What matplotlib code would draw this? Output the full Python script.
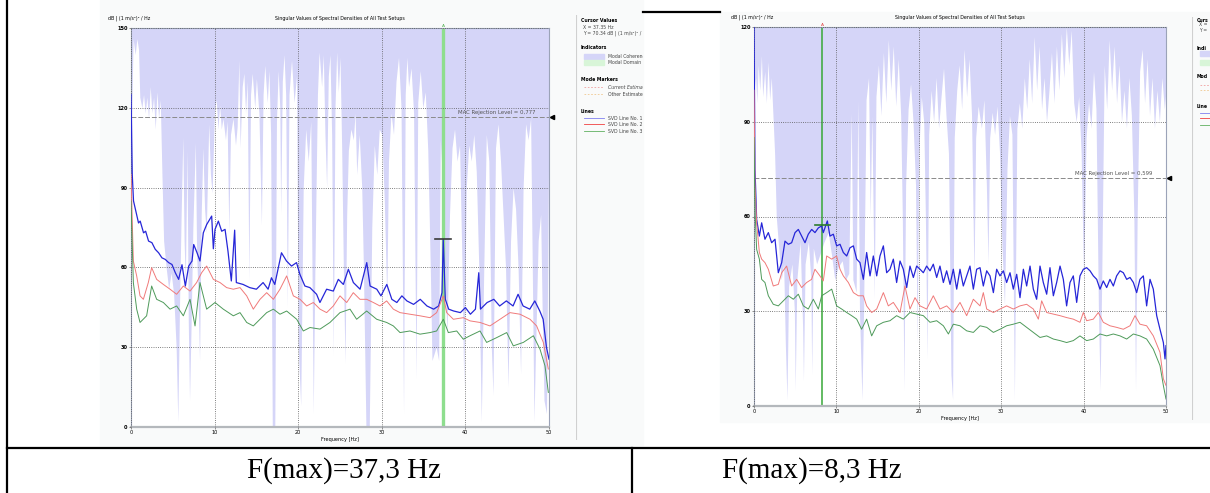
import numpy as np
import matplotlib.pyplot as plt
from matplotlib.lines import Line2D
from matplotlib.patches import Rectangle
from matplotlib.transforms import blended_transform_factory

plt.rcParams['font.family'] = ['DejaVu Sans']

# (frequency Hz, dB), F(max) = 37.3 Hz
svd1_left = [(0, 125), (0.15, 95), (0.3, 85), (0.9, 76.7), (1.1, 77.4), (1.5, 73), (1.75, 73.6), (2.1, 69.9),
             (2.5, 69.3), (2.9, 66.8), (3.3, 65.5), (3.7, 63.6), (4.1, 63), (4.5, 61.8), (4.9, 61.1), (5.3, 58),
             (5.7, 55.5), (6.1, 61), (6.5, 53), (6.9, 60.5), (7.3, 62.4), (7.5, 68.6), (7.9, 65.5), (8.25, 62.4),
             (8.65, 73), (9.05, 76.1), (9.65, 79.3), (9.85, 67), (10.05, 74.3), (10.45, 77.4), (10.85, 73.6),
             (11.25, 74.3), (11.6, 66.1), (12.0, 54.9), (12.4, 74), (12.6, 54.3), (13.4, 53.6), (14.2, 52.4),
             (15.0, 51.8), (15.8, 54.3), (16.4, 51.8), (16.8, 56.1), (17.2, 53.6), (18.0, 65.5), (18.6, 62.4),
             (19.2, 60.5), (19.8, 61.8), (20.2, 57.4), (20.8, 53), (21.4, 52.4), (22.2, 49.9), (22.6, 46.8),
             (23.4, 51.8), (24.2, 51.1), (24.8, 55.5), (25.4, 53.6), (26.0, 59.3), (26.6, 54.3), (27.4, 51.8),
             (28.2, 61.8), (28.6, 53), (29.4, 51.8), (29.9, 49.3), (30.6, 53.6), (31.2, 48), (31.8, 46.8),
             (32.4, 49.3), (33.0, 47.4), (33.8, 46.1), (34.6, 48), (35.4, 45.5), (36.2, 44.3), (36.8, 45.5),
             (37.2, 50.5), (37.35, 70.5), (37.6, 48), (38.0, 44.3), (38.6, 43.6), (39.4, 43), (40.0, 44.9),
             (40.6, 42.4), (41.2, 44.3), (41.6, 58), (41.8, 44.3), (42.6, 46.8), (43.4, 48), (44.1, 45.5),
             (44.9, 47.4), (45.7, 45.5), (46.3, 49.9), (46.9, 45.5), (47.7, 44.3), (48.3, 47.4), (48.9, 43.6),
             (49.3, 40.5), (49.7, 29.9), (50, 25.5)]
svd2_left = [(0, 95), (0.28, 62.4), (0.68, 56.8), (1.08, 49.3), (1.48, 48), (2.07, 54.3), (2.47, 59.9), (3.07, 55.5),
             (3.87, 53.6), (4.67, 51.8), (5.46, 49.9), (6.26, 53), (7.06, 51.1), (7.85, 54.3), (8.45, 58),
             (9.05, 60.5), (9.85, 55.5), (10.65, 54.3), (11.44, 52.4), (12.24, 51.8), (13.04, 52.4), (13.84, 49.3),
             (14.63, 44.3), (15.43, 48), (16.23, 50.5), (17.03, 48), (17.82, 51.8), (18.62, 56.8), (19.42, 49.3),
             (20.22, 48), (21.01, 45.5), (21.81, 46.8), (22.61, 44.3), (23.4, 43), (24.2, 45.5), (25.0, 49.3),
             (25.8, 46.8), (26.59, 50.5), (27.39, 48), (28.19, 48), (28.99, 46.8), (29.78, 45.5), (30.58, 47.4),
             (31.38, 44.3), (32.18, 43), (33.37, 42.4), (34.57, 41.8), (35.77, 41.1), (36.56, 43), (37.36, 49.3),
             (37.76, 43), (38.56, 40.5), (39.75, 41.1), (40.55, 39.9), (41.75, 39.3), (42.94, 38), (44.14, 40.5),
             (45.33, 43), (46.53, 42.4), (47.73, 40.5), (48.52, 38), (49.32, 31.8), (49.92, 21.8)]
svd3_left = [(0, 85), (0.28, 54.3), (0.68, 44.3), (1.08, 39.3), (1.87, 41.8), (2.47, 53), (3.07, 48), (3.87, 46.8),
             (4.67, 44.3), (5.46, 45.5), (6.26, 41.8), (7.06, 48), (7.66, 38), (8.25, 54.3), (9.05, 44.3),
             (10.05, 46.8), (11.04, 44.3), (12.24, 41.8), (13.04, 43), (13.84, 39.3), (14.63, 38), (15.43, 40.5),
             (16.23, 43), (17.03, 44.3), (17.82, 42.4), (18.62, 43.6), (19.82, 40.5), (20.61, 36.1), (21.41, 37.4),
             (22.61, 36.8), (23.8, 39.3), (25.0, 43), (26.2, 44.3), (26.99, 40.5), (28.19, 43.6), (29.39, 40.5),
             (30.58, 39.3), (31.38, 38), (32.18, 35.5), (33.37, 36.1), (34.57, 34.9), (35.77, 35.5), (36.56, 36.1),
             (37.36, 40.5), (37.96, 35.5), (38.96, 36.1), (39.75, 33), (40.55, 34.3), (41.75, 36.1), (42.54, 31.8),
             (43.74, 33.6), (44.94, 35.5), (45.73, 30.5), (46.93, 31.8), (48.13, 34.3), (48.92, 29.3), (49.52, 23),
             (49.92, 13)]
# lower edge of the "Modal Coherence" shading (shaded up to the top of the plot)
coherence_left = [(0.0, 60), (0.1, 120), (0.25, 146), (0.5, 140), (0.7, 146), (0.9, 142), (1.05, 124), (1.3, 120),
                  (1.5, 125), (1.7, 118), (1.9, 124), (2.1, 116), (2.3, 128), (2.5, 118), (2.7, 124), (2.9, 112),
                  (3.1, 126), (3.3, 116), (3.5, 123), (3.7, 95), (3.9, 70), (4.2, 60), (4.5, 52), (4.8, 58),
                  (5.1, 50), (5.4, 30), (5.6, 2), (5.8, 45), (6.0, 80), (6.2, 109), (6.35, 70), (6.5, 55),
                  (6.7, 104), (6.85, 40), (7.0, 10), (7.2, 40), (7.4, 75), (7.7, 107), (7.85, 65), (8.0, 52),
                  (8.2, 25), (8.4, 80), (8.6, 105), (8.8, 82), (9.0, 73), (9.3, 114), (9.5, 95), (9.7, 88),
                  (10.0, 120), (10.2, 123), (10.4, 112), (10.6, 121), (10.8, 112), (11.0, 116), (11.3, 108),
                  (11.5, 115), (11.7, 73), (11.9, 110), (12.2, 116), (12.5, 106), (12.7, 113), (12.9, 138),
                  (13.05, 105), (13.3, 128), (13.5, 133), (13.7, 118), (13.9, 130), (14.1, 55), (14.3, 125),
                  (14.5, 133), (14.8, 120), (15.0, 131), (15.3, 118), (15.6, 76), (15.8, 125), (16.0, 136),
                  (16.3, 122), (16.5, 134), (16.7, 110), (16.9, 0), (17.2, 0), (17.4, 115), (17.6, 134), (17.8, 120),
                  (17.9, 80), (18.1, 130), (18.3, 140), (18.5, 125), (18.7, 45), (18.9, 125), (19.2, 138),
                  (19.5, 122), (19.8, 132), (20.0, 30), (20.3, 8), (20.6, 90), (20.9, 112), (21.2, 100), (21.5, 115),
                  (21.8, 5), (22.0, 60), (22.3, 125), (22.5, 141), (22.8, 128), (23.0, 140), (23.2, 110), (23.4, 90),
                  (23.6, 132), (23.8, 140), (24.0, 110), (24.2, 27), (24.4, 120), (24.6, 141), (24.8, 126),
                  (25.0, 139), (25.2, 105), (25.4, 60), (25.6, 24), (25.8, 80), (26.0, 104), (26.3, 112),
                  (26.6, 108), (26.8, 118), (27.0, 95), (27.3, 110), (27.6, 90), (27.8, 60), (28.1, 0), (28.5, 0),
                  (28.8, 75), (29.1, 106), (29.4, 95), (29.7, 112), (30.0, 110), (30.3, 85), (30.6, 48), (30.8, 100),
                  (31.1, 118), (31.4, 110), (31.7, 130), (32.0, 139), (32.3, 120), (32.6, 5), (32.8, 125),
                  (33.0, 139), (33.2, 128), (33.5, 135), (33.8, 118), (34.1, 18), (34.3, 122), (34.6, 134),
                  (34.9, 120), (35.2, 126), (35.5, 104), (35.8, 60), (36.0, 25), (36.5, 30), (36.8, 25), (37.0, 108),
                  (37.3, 90), (37.5, 60), (37.8, 35), (38.1, 80), (38.4, 105), (38.7, 112), (39.0, 100), (39.3, 106),
                  (39.6, 60), (39.8, 15), (40.1, 90), (40.4, 106), (40.7, 100), (41.0, 110), (41.3, 96), (41.6, 60),
                  (41.9, 2), (42.2, 60), (42.5, 110), (42.8, 100), (43.1, 30), (43.3, 12), (43.6, 105), (43.9, 114),
                  (44.2, 100), (44.5, 80), (44.8, 60), (45.1, 15), (45.4, 70), (45.7, 90), (46.0, 82), (46.3, 60),
                  (46.6, 20), (46.9, 90), (47.2, 114), (47.5, 108), (47.8, 116), (48.0, 60), (48.2, 2), (48.4, 30),
                  (48.7, 70), (49.0, 80), (49.2, 40), (49.4, 10), (49.7, 5), (50.0, 120)]
mac_left = 116.6
cursor_left = (37.35, 70.5)

# right screenshot, F(max) = 8.3 Hz
svd1_right = [(0.0, 120), (0.12, 75), (0.32, 59.1), (0.65, 53.8), (0.93, 58), (1.33, 52.8), (1.74, 54.9), (2.14, 51.7),
              (2.55, 52.8), (2.95, 42.2), (3.36, 45.4), (3.76, 52.2), (4.17, 51.2), (4.57, 51.7), (4.98, 54.9),
              (5.38, 55.9), (5.78, 53.8), (6.19, 51.7), (6.59, 54.4), (7.0, 55.9), (7.4, 54.9), (7.81, 56.4),
              (8.21, 57), (8.41, 54.9), (8.9, 58.6), (9.22, 53.8), (9.63, 54.4), (10.03, 50.7), (10.44, 51.2),
              (10.84, 48.6), (11.25, 47.5), (11.65, 50.1), (12.06, 50.7), (12.46, 46.5), (12.86, 45.4), (13.27, 40.1),
              (13.67, 48.6), (14.08, 41.2), (14.48, 47.5), (14.89, 41.2), (15.29, 47.5), (15.7, 50.7), (16.1, 42.2),
              (16.5, 43.3), (16.91, 46.5), (17.31, 39.1), (17.72, 45.9), (18.12, 43.3), (18.53, 37.5), (18.93, 44.3),
              (19.34, 40.7), (19.74, 44.3), (20.15, 43.3), (20.55, 42.2), (20.95, 44.3), (21.36, 42.8), (21.76, 44.9),
              (22.17, 40.7), (22.57, 44.3), (22.98, 39.1), (23.38, 42.8), (23.79, 38.5), (24.19, 43.3), (24.6, 37),
              (25.0, 43.3), (25.4, 38), (25.81, 41.2), (26.21, 44.3), (26.62, 37), (27.02, 43.3), (27.43, 43.8),
              (27.83, 38), (28.24, 42.8), (28.64, 41.2), (29.05, 35.9), (29.45, 43.3), (29.85, 41.2), (30.26, 42.8),
              (30.66, 39.1), (31.07, 42.2), (31.47, 37), (31.88, 41.7), (32.28, 34.3), (32.69, 43.3), (33.09, 38),
              (33.5, 44.3), (33.9, 37), (34.3, 33.8), (34.71, 44.3), (35.11, 39.1), (35.52, 35.4), (35.92, 43.8),
              (36.33, 34.9), (36.73, 39.1), (37.14, 44.3), (37.54, 40.1), (37.94, 31.7), (38.35, 39.1), (38.75, 41.2),
              (39.16, 32.8), (39.56, 41.2), (39.97, 43.3), (40.37, 43.8), (40.78, 42.8), (41.18, 41.2), (41.59, 40.1),
              (41.99, 37), (42.39, 39.6), (42.8, 37.5), (43.2, 40.1), (43.61, 38), (44.01, 41.2), (44.42, 42.8),
              (44.82, 42.2), (45.23, 40.1), (45.63, 40.7), (46.04, 39.1), (46.44, 35.9), (46.84, 40.1), (47.25, 41.2),
              (47.65, 31.7), (48.06, 40.1), (48.46, 37), (48.87, 28.6), (49.27, 24.3), (49.68, 20.1), (49.88, 14.9),
              (50.0, 19.1)]
svd2_right = [(0, 100), (0.12, 70), (0.32, 58), (0.65, 48.6), (0.93, 46.5), (1.33, 45.4), (1.74, 43.3), (2.34, 38),
              (2.95, 38.5), (3.36, 42.2), (3.96, 44.3), (4.57, 38), (5.18, 40.1), (5.78, 37.5), (6.39, 39.1),
              (6.99, 40.1), (7.4, 43.3), (8.0, 41.2), (8.41, 39.6), (8.82, 47.5), (9.43, 46.5), (10.03, 47.5),
              (10.44, 43.3), (10.84, 41.2), (11.45, 39.1), (12.06, 35.9), (12.66, 34.9), (13.27, 34.9), (13.67, 31.7),
              (14.28, 29.6), (14.89, 30.7), (15.7, 35.9), (16.3, 31.7), (16.91, 32.8), (17.72, 29.6), (18.32, 38),
              (18.93, 30.7), (19.54, 34.3), (20.15, 31.7), (20.95, 30.7), (21.76, 34.9), (22.57, 30.7), (23.38, 31.7),
              (24.19, 29.6), (25.0, 32.8), (25.81, 28.6), (26.62, 33.8), (27.43, 31.7), (27.83, 35.9), (28.24, 30.7),
              (29.05, 29.6), (29.85, 30.7), (30.66, 31.7), (31.47, 30.7), (32.28, 31.7), (33.09, 32.2), (33.9, 30.7),
              (34.51, 27.5), (34.91, 33.3), (35.52, 29.6), (36.33, 29.1), (37.14, 28.6), (37.94, 28.0), (38.75, 27.5),
              (39.56, 26.5), (39.97, 29.6), (40.37, 27), (41.18, 27.5), (41.79, 29.6), (42.39, 26.5), (43.2, 25.4),
              (44.01, 24.9), (44.82, 24.3), (45.63, 25.4), (46.24, 28.6), (46.84, 25.9), (47.65, 25.4), (48.46, 22.2),
              (49.27, 17), (49.68, 8.6), (50.0, 6.5)]
svd3_right = [(0, 85), (0.12, 62), (0.32, 49.6), (0.65, 46.5), (0.93, 40.1), (1.33, 39.1), (1.74, 34.9), (2.34, 32.2),
              (2.95, 31.7), (3.56, 33.3), (4.17, 34.9), (4.77, 33.8), (5.38, 35.4), (5.99, 31.7), (6.59, 30.7),
              (7.2, 33.8), (7.81, 30.7), (8.21, 34.9), (8.82, 35.9), (9.43, 37), (10.03, 31.7), (10.64, 30.7),
              (11.25, 29.6), (11.85, 28.6), (12.46, 27.5), (13.06, 24.3), (13.67, 27.5), (14.28, 22.2), (14.89, 25.4),
              (15.7, 26.5), (16.5, 27), (17.31, 28.6), (18.12, 27.5), (18.93, 29.6), (19.74, 29.1), (20.55, 28.6),
              (21.36, 26.5), (22.17, 27), (22.98, 25.4), (23.59, 22.8), (24.19, 25.9), (25.0, 25.4), (25.81, 23.8),
              (26.62, 23.3), (27.43, 25.4), (28.24, 24.9), (29.05, 23.3), (29.85, 24.3), (30.66, 25.4), (31.47, 25.9),
              (32.28, 26.5), (33.09, 24.9), (33.9, 23.3), (34.71, 21.7), (35.52, 22.2), (36.33, 21.2), (37.14, 20.7),
              (37.94, 20.1), (38.75, 20.7), (39.56, 22.2), (40.37, 20.7), (41.18, 21.2), (41.99, 22.8), (42.8, 22.2),
              (43.61, 22.8), (44.42, 22.2), (45.23, 21.2), (46.04, 22.8), (46.84, 22.2), (47.65, 21.2), (48.46, 18),
              (49.27, 12.8), (49.68, 6.5), (50.0, 2.2)]
coherence_right = [(0.0, 100), (0.2, 104), (0.35, 96), (0.5, 108), (0.7, 100), (0.9, 111), (1.05, 98), (1.3, 106),
                   (1.5, 96), (1.7, 109), (1.9, 97), (2.1, 104), (2.3, 92), (2.5, 80), (2.7, 60), (3.0, 50),
                   (3.3, 40), (3.6, 45), (3.8, 20), (4.0, 2), (4.2, 38), (4.6, 45), (4.9, 30), (5.0, 5), (5.2, 40),
                   (5.6, 52), (5.9, 25), (6.0, 8), (6.2, 45), (6.6, 52), (6.9, 40), (7.0, 10), (7.2, 50), (7.6, 45),
                   (8.0, 48), (8.5, 52), (9.0, 55), (9.4, 48), (9.8, 40), (10.2, 44), (10.7, 46), (11.1, 40),
                   (11.5, 42), (11.8, 93), (12.0, 40), (12.4, 36), (12.6, 97), (12.8, 30), (13.1, 2), (13.3, 30),
                   (13.6, 97), (13.9, 104), (14.1, 60), (14.3, 92), (14.6, 34), (14.8, 98), (15.1, 108), (15.4, 92),
                   (15.7, 112), (16.0, 96), (16.3, 116), (16.6, 100), (16.9, 114), (17.2, 95), (17.5, 110),
                   (17.8, 92), (18.0, 60), (18.2, 5), (18.4, 70), (18.7, 94), (19.0, 102), (19.3, 90), (19.6, 70),
                   (19.8, 20), (20.0, 80), (20.3, 98), (20.6, 90), (20.8, 60), (21.0, 15), (21.2, 86), (21.5, 100),
                   (21.8, 90), (22.1, 104), (22.4, 88), (22.7, 98), (23.0, 107), (23.3, 92), (23.6, 80), (23.9, 10),
                   (24.1, 2), (24.3, 85), (24.6, 100), (24.9, 108), (25.2, 94), (25.5, 113), (25.8, 98),
                   (26.1, 110), (26.4, 92), (26.7, 40), (26.9, 85), (27.2, 95), (27.6, 88), (27.9, 97), (28.2, 70),
                   (28.4, 45), (28.6, 85), (28.9, 93), (29.2, 86), (29.5, 95), (29.8, 80), (30.1, 50), (30.4, 32),
                   (30.7, 75), (31.0, 92), (31.3, 86), (31.6, 2), (31.9, 88), (32.2, 96), (32.5, 88), (32.8, 104),
                   (33.1, 94), (33.4, 110), (33.7, 96), (34.0, 117), (34.3, 100), (34.6, 114), (34.9, 94),
                   (35.2, 104), (35.5, 90), (35.8, 100), (36.1, 112), (36.4, 96), (36.7, 114), (37.0, 100),
                   (37.3, 118), (37.6, 104), (37.9, 120), (38.2, 108), (38.5, 119), (38.8, 96), (39.1, 90),
                   (39.4, 98), (39.7, 80), (40.0, 40), (40.3, 85), (40.6, 96), (40.9, 88), (41.2, 106), (41.5, 94),
                   (41.8, 30), (42.0, 5), (42.2, 40), (42.5, 108), (42.8, 94), (43.1, 116), (43.4, 100), (43.7, 114),
                   (44.0, 96), (44.3, 108), (44.6, 90), (44.9, 100), (45.2, 88), (45.5, 104), (45.8, 92), (46.1, 60),
                   (46.3, 5), (46.5, 60), (46.8, 106), (47.1, 113), (47.4, 96), (47.7, 110), (48.0, 92), (48.3, 104),
                   (48.6, 88), (48.9, 100), (49.2, 90), (49.5, 104), (49.8, 94), (50.0, 100)]
mac_right = 72.3
cursor_right = (8.3, 57.2)

captions = ['F(max)=37,3 Hz', 'F(max)=8,3 Hz']
title = 'Singular Values of Spectral Densities of All Test Setups'
ylabel = 'dB | (1 m/s\u00b2)\u00b2 / Hz'
panel_left = ['Cursor Values', 'X = 37.35 Hz', 'Y = 70.34 dB | (1 m/s\u00b2)\u00b2 / Hz', 'Indicators',
              'Modal Coherence', 'Modal Domain', 'Mode Markers', 'Current Estimate', 'Other Estimates', 'Lines',
              'SVD Line No. 1', 'SVD Line No. 2', 'SVD Line No. 3']
# the right screenshot is cut by the page, only the start of each label shows
panel_right = ['Curs', 'X =', 'Y =', 'Indi', '', '', 'Mod', '', '', 'Line', '', '', '']

W, H = 1210, 493
LAV = '#d5d5f8'


def rect(x0, y0, x1, y1):
    # pixel box (top-left origin) -> figure fraction
    return [x0 / W, 1 - y1 / H, (x1 - x0) / W, (y1 - y0) / H]


def svd_plot(fig, box, ymax, lines, coh, mac, mac_txt, cursor, cur_color, cur_lw, a_color, bar_color):
    ax = fig.add_axes(rect(*box))
    ax.set_facecolor('white')
    f, b = np.array(coh).T
    ax.fill_between(f, b, ymax, color=LAV, lw=0, zorder=1)
    ax.axvline(cursor[0], color=cur_color, lw=cur_lw, zorder=2)
    for data, c, lw in zip(lines, ['#2626d8', '#f07a7a', '#4e9a5a'], [0.9, 0.7, 0.7]):
        x, y = np.array(data).T
        ax.plot(x, y, color=c, lw=lw, zorder=4)
    ax.plot([cursor[0] - 0.95, cursor[0] + 0.95], [cursor[1]] * 2, color=bar_color, lw=1.2, zorder=5)
    ax.axhline(mac, color='#8a8a8a', lw=0.7, ls=(0, (5, 2)), zorder=3)
    ax.text(48.4, mac + 0.6, mac_txt, ha='right', va='bottom', fontsize=3.9, color='#555555', zorder=6)
    tr = blended_transform_factory(ax.transAxes, ax.transData)
    ax.plot([1.008], [mac], marker='<', color='k', ms=3, transform=tr, clip_on=False)
    ax.text(cursor[0], ymax, 'A', ha='center', va='bottom', fontsize=3.2, color=a_color)

    ax.set_xlim(0, 50)
    ax.set_ylim(0, ymax)
    ax.set_xticks(range(0, 51, 10))
    ax.set_yticks(range(0, ymax + 1, 30))
    ax.grid(True, color='#555555', ls=':', lw=0.6, zorder=3)
    ax.set_axisbelow(False)
    ax.tick_params(length=1.5, width=0.5, labelsize=3.6, pad=1, color='#666666')
    for lab in ax.get_yticklabels():
        lab.set_fontweight('bold')
    for s in ax.spines.values():
        s.set_color('#9ba3b8')
        s.set_linewidth(0.8)
    ax.spines['bottom'].set_color('#b4b8bc')
    ax.spines['bottom'].set_linewidth(1.6)
    ax.set_xlabel('Frequency [Hz]', fontsize=3.6, labelpad=1)
    ax.text(0.5, 1.025, title, transform=ax.transAxes, ha='center', va='center', fontsize=3.4)
    ax.text(-0.056, 1.025, ylabel, transform=ax.transAxes, ha='left', va='center', fontsize=3.4)
    return ax


def side_panel(fig, box, rows, labels):
    x0, y0, x1, y1 = box
    ax = fig.add_axes(rect(*box))
    ax.set_xlim(0, x1 - x0)
    ax.set_ylim(y1 - y0, 0)
    ax.axis('off')
    ax.plot([0, 0], [0, y1 - y0], color='#d0d0d0', lw=0.8)
    kw = dict(fontsize=3.3, va='center', clip_on=True)
    head = [0, 3, 6, 9]
    for i, (r, lab) in enumerate(zip(rows, labels)):
        if i in head:
            ax.text(5, r, lab, fontweight='bold', **kw)
        elif i in (1, 2):
            ax.text(7, r, lab, color='#444444', **kw)
        else:
            ax.text(32, r, lab, color='#444444', style='italic' if i == 7 else 'normal', **kw)
    ax.add_patch(Rectangle((8, rows[4] - 2.5), 20, 5, color=LAV, clip_on=True))
    ax.add_patch(Rectangle((8, rows[5] - 2.5), 20, 5, color='#d8f5d8', clip_on=True))
    ax.plot([8, 28], [rows[7]] * 2, color='#f0a0a0', lw=0.6, ls=(0, (2, 2)))
    ax.plot([8, 28], [rows[8]] * 2, color='#f0c890', lw=0.6, ls=(0, (2, 2)))
    for i, c in enumerate(['#8080f0', '#f04040', '#60b060']):
        ax.plot([8, 28], [rows[10 + i]] * 2, color=c, lw=0.6)


fig = plt.figure(figsize=(W / 100, H / 100), dpi=100)

# pasted screenshots
fig.add_artist(Rectangle((100 / W, 1 - 445 / H), 543 / W, 445 / H, transform=fig.transFigure,
                         color='#f9fafa', zorder=0))
fig.add_artist(Rectangle((720 / W, 1 - 422 / H), 490 / W, 410 / H, transform=fig.transFigure,
                         color='#f9fafa', zorder=0))

svd_plot(fig, (131, 28, 549, 427), 150, [svd1_left, svd2_left, svd3_left], coherence_left, mac_left,
         'MAC Rejection Level = 0,777', cursor_left, '#8ede8e', 2.4, '#50b050', '#3a3a3a')
svd_plot(fig, (754, 27, 1166, 406), 120, [svd1_right, svd2_right, svd3_right], coherence_right, mac_right,
         'MAC Rejection Level = 0,599', cursor_right, '#38a838', 1.1, '#e04040', '#2c7a2c')

side_panel(fig, (576, 15, 643, 440), [5, 12, 18, 32, 41, 47, 64, 72, 79, 96, 103, 109, 116], panel_left)
side_panel(fig, (1192, 17, 1210, 420), [3, 8, 13, 31, 36, 45, 60, 68, 73, 89, 96, 101, 108], panel_right)


# table borders
def hline(y, x0, x1):
    fig.add_artist(Line2D([x0 / W, x1 / W], [1 - y / H] * 2, color='black', lw=1.6, transform=fig.transFigure))


def vline(x, y0, y1):
    fig.add_artist(Line2D([x / W] * 2, [1 - y0 / H, 1 - y1 / H], color='black', lw=1.6, transform=fig.transFigure))


vline(7, 0, 493)
hline(448, 7, 1210)
vline(632, 448, 493)
hline(12, 643, 720)

fig.text(247 / W, 1 - 471 / H, captions[0], fontsize=21, family=['Liberation Serif'], va='center')
fig.text(722 / W, 1 - 471 / H, captions[1], fontsize=21, family=['Liberation Serif'], va='center')

fig.savefig('out.png', dpi=100)
